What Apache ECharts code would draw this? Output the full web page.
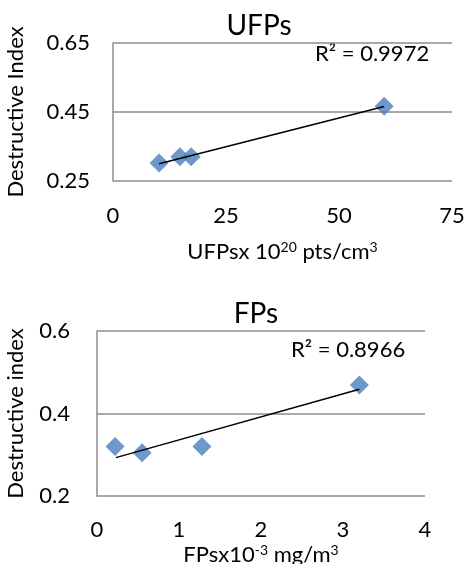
<!DOCTYPE html>
<html>
<head>
<meta charset="utf-8">
<script src="https://cdn.jsdelivr.net/npm/echarts@6/dist/echarts.min.js"></script>
<style>
  html, body { margin: 0; padding: 0; background: #fff; }
  #chart { width: 467px; height: 564px; }
</style>
</head>
<body>
<div id="chart"></div>
<script>
// UFPs panel
const ufpX = [10.2, 14.8, 17.3, 60]
const ufpY = [0.302, 0.32, 0.32, 0.467]
const ufpTrendX = [10.2, 60]
const ufpTrendY = [0.300, 0.466]
const ufpTicksX = [0, 75, 25]
const ufpTicksY = [0.25, 0.65, 0.2]

// FPs panel
const fpX = [0.22, 0.55, 1.28, 3.2]
const fpY = [0.32, 0.305, 0.32, 0.469]
const fpTrendX = [0.23, 3.2]
const fpTrendY = [0.293, 0.459]
const fpTicksX = [0, 4, 1]
const fpTicksY = [0.2, 0.6, 0.2]

const FONT = 'Lato'
const BLUE = '#4a7ebb'
const GRID = '#8c8c8c'

const zip = (a, b) => a.map((v, i) => [v, b[i]])

function xAxis(idx, ticks, margin, name, nameGap) {
  return {
    type: 'value', gridIndex: idx,
    min: ticks[0], max: ticks[1], interval: ticks[2],
    axisLine: {show: false}, axisTick: {show: false}, splitLine: {show: false},
    axisLabel: {margin, color: '#000', fontFamily: FONT, fontSize: 22},
    name, nameLocation: 'middle', nameGap,
    nameTextStyle: {
      color: '#000', fontFamily: FONT, fontSize: 22,
      rich: {
        a: {fontFamily: FONT, fontSize: 22, color: '#000'},
        s: {fontFamily: FONT, fontSize: 14, color: '#000', verticalAlign: 'top', padding: [0, 0, 10, 0]}
      }
    }
  }
}

function yAxis(idx, ticks, margin, name, dec, nameGap) {
  return {
    type: 'value', gridIndex: idx,
    min: ticks[0], max: ticks[1], interval: ticks[2],
    axisLine: {show: true, lineStyle: {color: GRID, width: 1.5}},
    axisTick: {show: false},
    splitLine: {show: true, lineStyle: {color: GRID, width: 1.5}},
    axisLabel: {margin, color: '#000', fontFamily: FONT, fontSize: 22,
      formatter: v => v.toFixed(dec)},
    name, nameLocation: 'middle', nameGap, nameRotate: 90,
    nameTextStyle: {color: '#000', fontFamily: FONT, fontSize: 22}
  }
}

const chart = echarts.init(document.getElementById('chart'))
chart.setOption({
  animation: false,
  title: [
    {text: 'UFPs', left: 254, top: 7, textAlign: 'center',
      textStyle: {fontFamily: FONT, fontSize: 28, fontWeight: 'normal', color: '#000'}},
    {text: 'FPs', left: 251, top: 295, textAlign: 'center',
      textStyle: {fontFamily: FONT, fontSize: 28, fontWeight: 'normal', color: '#000'}}
  ],
  graphic: [
    {type: 'text', left: 315, top: 43,
      style: {text: 'R² = 0.9972', fontFamily: FONT, fontSize: 22, fill: '#000'}},
    {type: 'text', left: 291, top: 339,
      style: {text: 'R² = 0.8966', fontFamily: FONT, fontSize: 22, fill: '#000'}}
  ],
  grid: [
    {left: 113, right: 15, top: 43, height: 138, outerBoundsMode: 'none'},
    {left: 97, right: 42, top: 331, height: 165, outerBoundsMode: 'none'}
  ],
  xAxis: [
    xAxis(0, ufpTicksX, 24, '{a|UFPsx 10}{s|20}{a| pts/cm}{s|3}', 59),
    xAxis(1, fpTicksX, 23, '{a|FPsx10}{s|-3}{a| mg/m}{s|3}', 47)
  ],
  yAxis: [
    yAxis(0, ufpTicksY, 23, 'Destructive Index', 2, 86),
    yAxis(1, fpTicksY, 27, 'Destructive index', 1, 70)
  ],
  series: [
    {type: 'scatter', xAxisIndex: 0, yAxisIndex: 0, data: zip(ufpX, ufpY),
      symbol: 'diamond', symbolSize: 19, itemStyle: {color: BLUE}, z: 3},
    {type: 'line', xAxisIndex: 0, yAxisIndex: 0, data: zip(ufpTrendX, ufpTrendY),
      showSymbol: false, lineStyle: {color: '#000', width: 1.5}, z: 4},
    {type: 'scatter', xAxisIndex: 1, yAxisIndex: 1, data: zip(fpX, fpY),
      symbol: 'diamond', symbolSize: 19, itemStyle: {color: BLUE}, z: 3},
    {type: 'line', xAxisIndex: 1, yAxisIndex: 1, data: zip(fpTrendX, fpTrendY),
      showSymbol: false, lineStyle: {color: '#000', width: 1.5}, z: 4}
  ]
})
</script>
</body>
</html>
